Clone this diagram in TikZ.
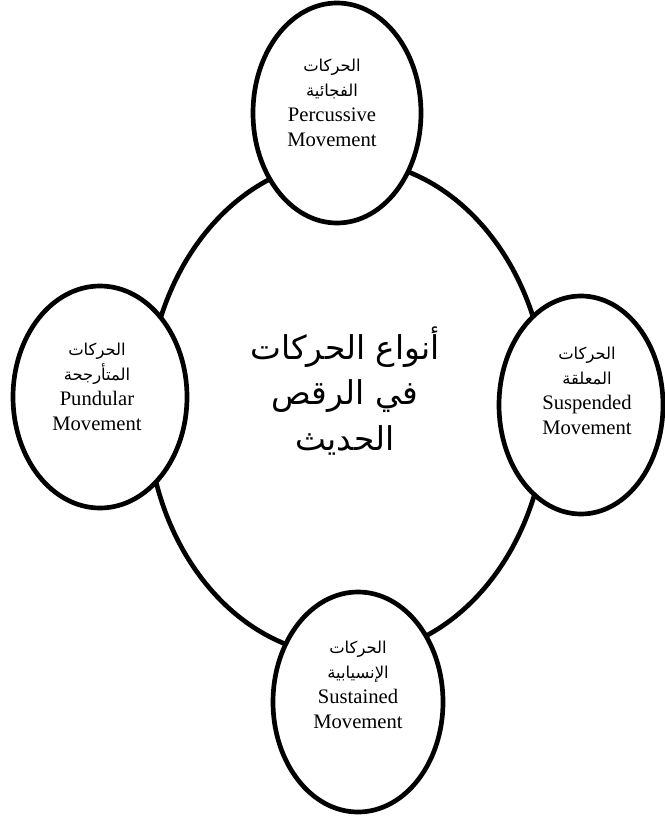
\documentclass[tikz,border=0pt]{standalone}
\usepackage{fontspec}
\setmainfont{Liberation Serif}
\newfontfamily\arabicfont[Script=Arabic]{DejaVu Sans}
\TeXXeTstate=1
\newcommand{\ar}[1]{{\arabicfont\fontsize{14}{21}\selectfont\beginR #1\endR}}

\tikzset{
  bubble/.style={line width=4pt, fill=white},
  label/.style={align=center, font=\fontsize{17.6}{21.3}\selectfont, inner sep=0pt}
}

\begin{document}
\begin{tikzpicture}[x=0.03cm, y=-0.03cm]
  \useasboundingbox (0,0) rectangle (664,816);

  % Main ellipse
  \draw[line width=4pt] (347,408) ellipse [x radius=200, y radius=248];

  % Surrounding ellipses
  \draw[bubble] (337,113) ellipse [x radius=84, y radius=110];
  \draw[bubble] (100,397) ellipse [x radius=87, y radius=111];
  \draw[bubble] (581,405) ellipse [x radius=82, y radius=109];
  \draw[bubble] (358,702) ellipse [x radius=85, y radius=110];

  % Labels
  \node[align=center, inner sep=0pt,
        font=\arabicfont\fontsize{28}{39}\selectfont] (main) at (345,391)
    {\beginR أنواع الحركات\endR\\ \beginR في الرقص\endR\\ \beginR الحديث\endR};
  \node[label] (percussive) at (332,103)
    {\ar{الحركات}\\ \ar{الفجائية}\\ Percussive\\ Movement};
  \node[label] (pundular) at (97,387)
    {\ar{الحركات}\\ \ar{المتأرجحة}\\ Pundular\\ Movement};
  \node[label] (suspended) at (587,391)
    {\ar{الحركات}\\ \ar{المعلقة}\\ Suspended\\ Movement};
  \node[label] (sustained) at (358,685)
    {\ar{الحركات}\\ \ar{الإنسيابية}\\ Sustained\\ Movement};
\end{tikzpicture}
\end{document}
